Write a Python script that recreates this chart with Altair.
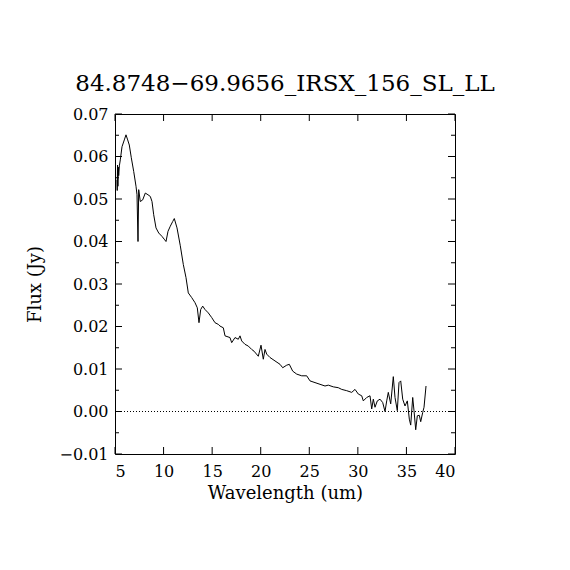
import altair as alt
import pandas as pd

# Spectrum
wavelength = [5.206, 5.23, 5.26, 5.30, 5.34, 5.381, 5.45, 5.546, 5.721, 5.957, 6.132, 6.307, 6.472, 6.678,
              6.925, 7.162, 7.265, 7.368, 7.440, 7.604, 7.852, 8.119, 8.397, 8.634,
              8.809, 8.984, 9.221, 9.499, 9.838, 10.116, 10.250, 10.456, 10.693, 10.940,
              11.105, 11.383, 11.722, 12.031, 12.309, 12.546, 12.896, 13.236, 13.472,
              13.647, 13.822, 14.028, 14.265, 14.605, 14.955, 15.294, 15.634, 15.809,
              16.149, 16.324, 16.838, 17.013, 17.353, 17.693, 17.868, 18.043, 18.383,
              18.722, 19.072, 19.309, 19.752, 20.030, 20.267, 20.442, 20.617, 20.956,
              21.471, 21.986, 22.264, 22.676, 22.943, 23.293, 23.705, 24.220, 24.734,
              25.074, 25.589, 26.103, 26.618, 26.958, 27.473, 27.988, 28.338, 28.852,
              29.367, 29.707, 30.047, 30.397, 30.561, 30.911, 31.251, 31.426, 31.591,
              31.766, 32.003, 32.280, 32.558, 32.795, 32.970, 33.134, 33.382, 33.649,
              33.824, 34.061, 34.236, 34.411, 34.617, 34.854, 35.091, 35.297, 35.441,
              35.647, 35.781, 35.956, 36.121, 36.327, 36.471, 36.677, 36.811, 37.017]
flux = [0.0545, 0.0520, 0.0580, 0.0530, 0.0575, 0.0555, 0.0578, 0.0592, 0.0623, 0.0639, 0.0651, 0.0639, 0.0627, 0.0597,
        0.0565, 0.0530, 0.0510, 0.0400, 0.0522, 0.0494, 0.0498, 0.0514, 0.0510, 0.0506,
        0.0494, 0.0463, 0.0432, 0.0420, 0.0412, 0.0404, 0.0400, 0.0424, 0.0436, 0.0447,
        0.0454, 0.0432, 0.0390, 0.0346, 0.0315, 0.0279, 0.0268, 0.0256, 0.0244,
        0.0209, 0.0240, 0.0248, 0.0240, 0.0232, 0.0221, 0.0209, 0.0205, 0.0201,
        0.0197, 0.0178, 0.0174, 0.0162, 0.0174, 0.0170, 0.0178, 0.0166, 0.0158,
        0.0154, 0.0146, 0.0142, 0.0130, 0.0156, 0.0123, 0.0146, 0.0135, 0.0127,
        0.0119, 0.0111, 0.0103, 0.0109, 0.0111, 0.0095, 0.0088, 0.0084, 0.0084,
        0.0072, 0.0068, 0.0064, 0.0060, 0.0062, 0.0058, 0.0056, 0.0052, 0.0049,
        0.0045, 0.0052, 0.0041, 0.0037, 0.0025, 0.0033, 0.0037, 0.0006, 0.0029,
        0.0010, 0.0025, 0.0029, 0.0021, 0.0000, 0.0025, 0.0045, 0.0018, 0.0082,
        0.0033, 0.0002, 0.0068, 0.0072, 0.0029, 0.0013, 0.0025, -0.0018, -0.0032,
        0.0033, 0.0002, -0.0043, -0.0010, -0.0009, -0.0024, -0.0002, 0.0010, 0.0060]

x_ticks = [5, 10, 15, 20, 25, 30, 35, 40]
y_major = [-0.01, 0.0, 0.01, 0.02, 0.03, 0.04, 0.05, 0.06, 0.07]
y_minor = [-0.005, 0.005, 0.015, 0.025, 0.035, 0.045, 0.055, 0.065]
zero_line = [0.0]

W, H = 340, 340
FONT = "DejaVu Serif"

xscale = alt.Scale(domain=[5, 40], nice=False, zero=False)
yscale = alt.Scale(domain=[-0.01, 0.07], nice=False, zero=False)

x_axis = alt.Axis(values=x_ticks, format="d", ticks=False, domain=False, grid=False,
                  labelFont=FONT, labelFontSize=16, labelColor="black", labelPadding=9,
                  title="Wavelength (um)", titleFont=FONT, titleFontSize=18,
                  titleFontWeight="normal", titleColor="black", titlePadding=5)
y_axis = alt.Axis(values=y_major, format=".2f", ticks=False, domain=False, grid=False,
                  labelFont=FONT, labelFontSize=16, labelColor="black", labelPadding=7,
                  title="Flux (Jy)", titleFont=FONT, titleFontSize=18,
                  titleFontWeight="normal", titleColor="black", titlePadding=14)

spec_df = pd.DataFrame({"wavelength": wavelength, "flux": flux})
xt_df = pd.DataFrame({"v": x_ticks})
ymaj_df = pd.DataFrame({"v": y_major})
ymin_df = pd.DataFrame({"v": y_minor})
zero_df = pd.DataFrame({"v": zero_line})

line = alt.Chart(spec_df).mark_line(color="black", strokeWidth=1).encode(
    x=alt.X("wavelength:Q", scale=xscale, axis=x_axis),
    y=alt.Y("flux:Q", scale=yscale, axis=y_axis),
)

zero = alt.Chart(zero_df).mark_rule(color="black", strokeWidth=1, strokeDash=[1, 2]).encode(
    y=alt.Y("v:Q", scale=yscale, axis=y_axis)
)

MAJ, MIN = 7, 4
x_bottom = alt.Chart(xt_df).mark_rule(color="black", strokeWidth=1).encode(
    x=alt.X("v:Q", scale=xscale, axis=x_axis), y=alt.value(H), y2=alt.value(H - MAJ))
x_top = alt.Chart(xt_df).mark_rule(color="black", strokeWidth=1).encode(
    x=alt.X("v:Q", scale=xscale, axis=x_axis), y=alt.value(0), y2=alt.value(MAJ))
y_left_maj = alt.Chart(ymaj_df).mark_rule(color="black", strokeWidth=1).encode(
    y=alt.Y("v:Q", scale=yscale, axis=y_axis), x=alt.value(0), x2=alt.value(MAJ))
y_right_maj = alt.Chart(ymaj_df).mark_rule(color="black", strokeWidth=1).encode(
    y=alt.Y("v:Q", scale=yscale, axis=y_axis), x=alt.value(W), x2=alt.value(W - MAJ))
y_left_min = alt.Chart(ymin_df).mark_rule(color="black", strokeWidth=1).encode(
    y=alt.Y("v:Q", scale=yscale, axis=y_axis), x=alt.value(0), x2=alt.value(MIN))
y_right_min = alt.Chart(ymin_df).mark_rule(color="black", strokeWidth=1).encode(
    y=alt.Y("v:Q", scale=yscale, axis=y_axis), x=alt.value(W), x2=alt.value(W - MIN))

chart = alt.layer(
    line, zero, x_bottom, x_top, y_left_maj, y_right_maj, y_left_min, y_right_min
).properties(
    width=W, height=H,
    title=alt.TitleParams("84.8748\u221269.9656_IRSX_156_SL_LL", font=FONT, fontSize=23,
                          fontWeight="normal", color="black", anchor="middle",
                          baseline="alphabetic", offset=2, dy=10),
    padding={"left": 107, "top": 106, "right": 100, "bottom": 100},
    autosize=alt.AutoSizeParams(type="none"),
    background="white",
).configure_view(stroke="black", strokeWidth=1)

chart.save("out.html", embed_options={"renderer": "svg", "actions": False})
